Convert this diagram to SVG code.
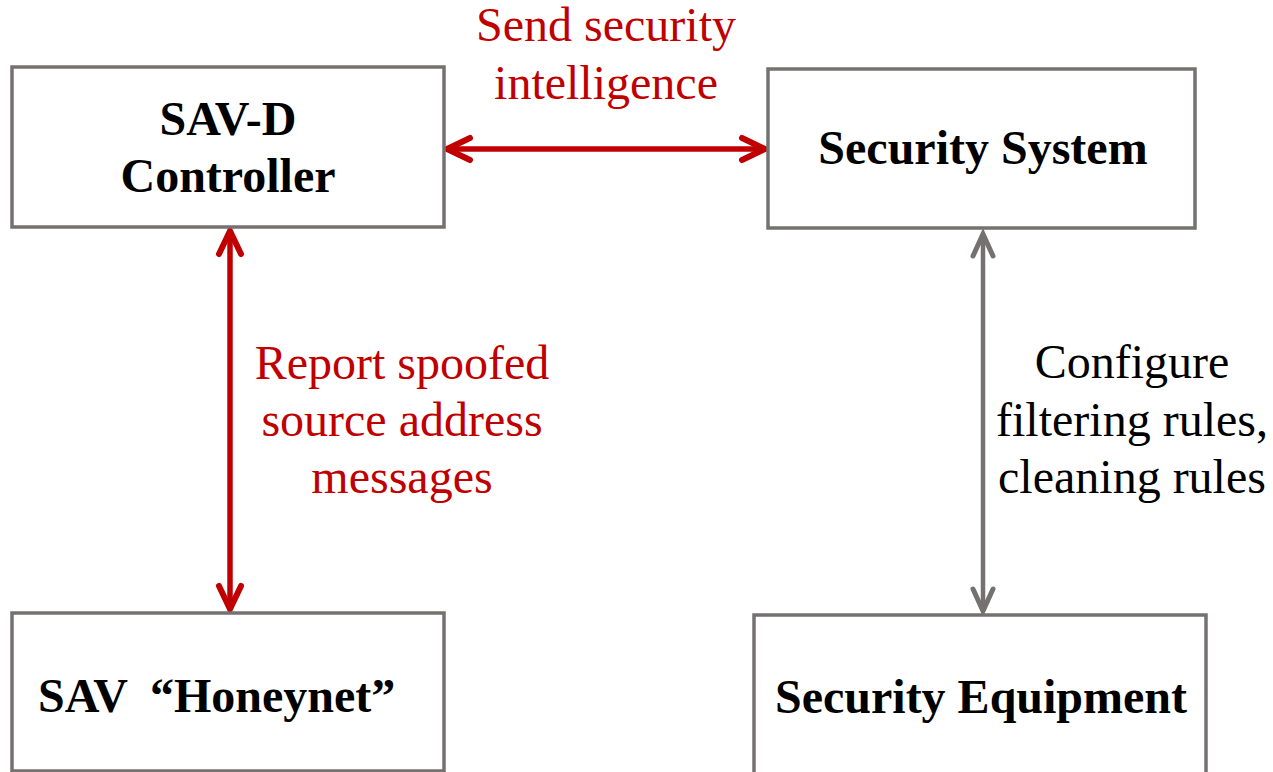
<svg xmlns="http://www.w3.org/2000/svg" width="1273" height="772" viewBox="0 0 1273 772">
  <style>
    .box { fill: #FFFFFF; stroke: #767171; stroke-width: 3.5; }
    .title { font-family: "Liberation Serif", "Times New Roman", serif; font-weight: bold; font-size: 48px; fill: #000000; }
    .label { font-family: "Liberation Serif", "Times New Roman", serif; font-size: 48px; }
    .red { fill: #C00000; }
    .dark { fill: #000000; }
    .wire-red { stroke: #C00000; stroke-width: 5.5; fill: none; }
    .wire-grey { stroke: #767171; stroke-width: 4.5; fill: none; }
  </style>
  <defs>
    <marker id="head-red" markerUnits="userSpaceOnUse" markerWidth="40" markerHeight="40" viewBox="-30 -20 40 40" refX="0" refY="0" orient="auto-start-reverse" overflow="visible">
      <path d="M -23 -11 L 0 0 L -23 11" fill="none" stroke="#C00000" stroke-width="6" stroke-linecap="round" stroke-linejoin="miter"/>
    </marker>
    <marker id="head-grey" markerUnits="userSpaceOnUse" markerWidth="40" markerHeight="40" viewBox="-30 -20 40 40" refX="0" refY="0" orient="auto-start-reverse" overflow="visible">
      <path d="M -22 -10 L 0 0 L -22 10" fill="none" stroke="#767171" stroke-width="5" stroke-linecap="round" stroke-linejoin="miter"/>
    </marker>
  </defs>

  <rect width="1273" height="772" fill="#FFFFFF"/>

  <!-- connectors -->
  <g id="connectors">
    <line class="wire-red" x1="447" y1="149" x2="765" y2="149" marker-start="url(#head-red)" marker-end="url(#head-red)"/>
    <line class="wire-red" x1="230" y1="231" x2="230" y2="609" marker-start="url(#head-red)" marker-end="url(#head-red)"/>
    <line class="wire-grey" x1="983" y1="234" x2="983" y2="611" marker-start="url(#head-grey)" marker-end="url(#head-grey)"/>
  </g>

  <!-- connector labels -->
  <g id="label-intelligence">
    <text class="label red" x="606" y="41" text-anchor="middle">Send security</text>
    <text class="label red" x="606" y="99" text-anchor="middle">intelligence</text>
  </g>
  <g id="label-report">
    <text class="label red" x="402" y="379" text-anchor="middle">Report spoofed</text>
    <text class="label red" x="402" y="436" text-anchor="middle">source address</text>
    <text class="label red" x="402" y="493" text-anchor="middle">messages</text>
  </g>
  <g id="label-configure">
    <text class="label dark" x="1132" y="378" text-anchor="middle">Configure</text>
    <text class="label dark" x="1132" y="436" text-anchor="middle">filtering rules,</text>
    <text class="label dark" x="1132" y="493" text-anchor="middle">cleaning rules</text>
  </g>

  <!-- nodes -->
  <g id="sav-d-controller">
    <rect class="box" x="12" y="67" width="432" height="160"/>
    <text class="title" x="228" y="135" text-anchor="middle">SAV-D</text>
    <text class="title" x="228" y="192" text-anchor="middle">Controller</text>
  </g>
  <g id="security-system">
    <rect class="box" x="768" y="69" width="427" height="159"/>
    <text class="title" x="983" y="164" text-anchor="middle">Security System</text>
  </g>
  <g id="sav-honeynet">
    <rect class="box" x="12" y="613" width="432" height="158"/>
    <text class="title" y="712"><tspan x="38">SAV</tspan><tspan x="150">“Honeynet”</tspan></text>
  </g>
  <g id="security-equipment">
    <rect class="box" x="754" y="615" width="452" height="170"/>
    <text class="title" x="981" y="713" text-anchor="middle">Security Equipment</text>
  </g>
</svg>
